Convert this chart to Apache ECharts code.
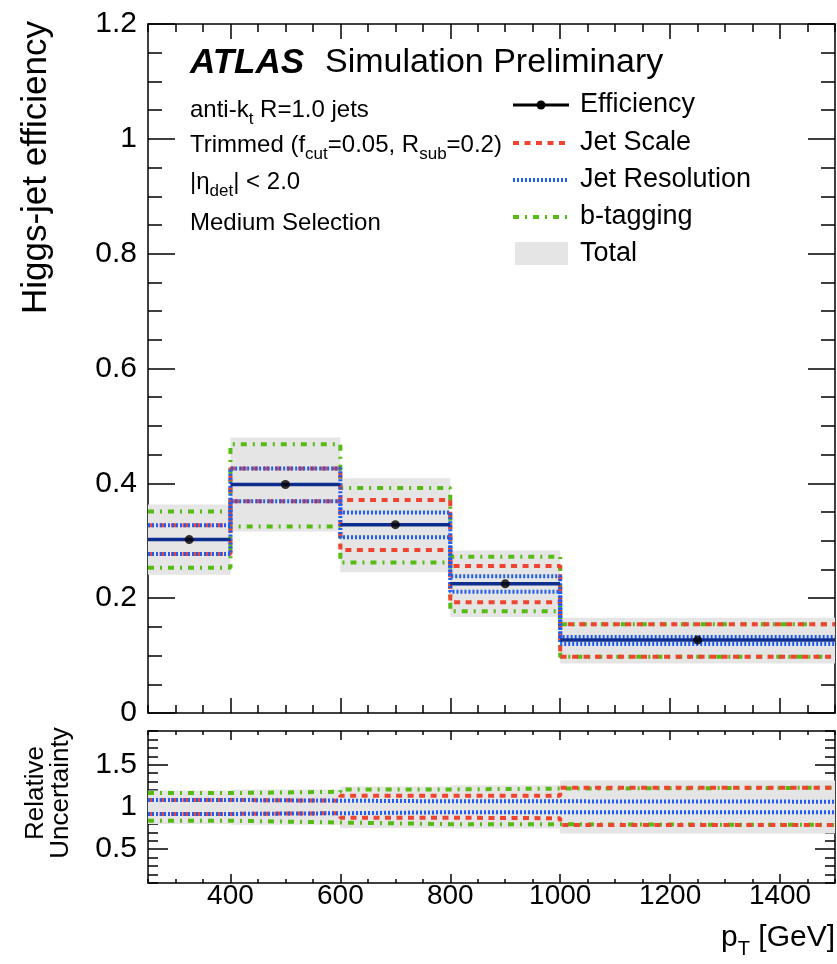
<!DOCTYPE html>
<html><head><meta charset="utf-8">
<script src="https://cdn.jsdelivr.net/npm/echarts@6/dist/echarts.min.js"></script>
<style>html,body{margin:0;padding:0;background:#fff}#c{width:837px;height:964px}</style>
</head><body><div id="c"></div>
<script>
// ---- data ----
const binEdges = [250, 400, 600, 800, 1000, 1500];
const binCenters = [325, 500, 700, 900, 1250];
const efficiency = [0.302, 0.398, 0.328, 0.225, 0.127];
const totalUp   = [0.363, 0.480, 0.409, 0.283, 0.166];
const totalDown = [0.241, 0.316, 0.245, 0.167, 0.086];
const jesUp     = [0.327, 0.426, 0.371, 0.256, 0.1545];
const jesDown   = [0.277, 0.369, 0.284, 0.193, 0.098];
const jerUp     = [0.327, 0.426, 0.349, 0.238, 0.1325];
const jerDown   = [0.277, 0.369, 0.306, 0.211, 0.120];
const btagUp    = [0.351, 0.468, 0.392, 0.272, 0.1545];
const btagDown  = [0.253, 0.325, 0.262, 0.177, 0.098];
// relative uncertainty panel
const relTotalUp   = [1.195, 1.207, 1.243, 1.258, 1.315];
const relTotalDown = [0.800, 0.790, 0.752, 0.745, 0.685];
const relJesUp     = [1.083, 1.075, 1.133, 1.133, 1.228];
const relJesDown   = [0.918, 0.926, 0.873, 0.867, 0.788];
const relJerUp     = [1.083, 1.075, 1.067, 1.067, 1.063];
const relJerDown   = [0.918, 0.926, 0.938, 0.938, 0.938];
const relBtagUp    = [1.165, 1.180, 1.208, 1.218, 1.228];
const relBtagDown  = [0.838, 0.816, 0.797, 0.795, 0.788];
const xTickLabels = [400, 600, 800, 1000, 1200, 1400];
const yRatioLabels = [0.5, 1, 1.5];

// ---- styles ----
const FONT = 'Liberation Sans, Arial, Helvetica, sans-serif';
const RED = '#ef4530', BLUE = '#1f5cf2', GREEN = '#56bb12', NAVY = '#0d2e8e', GRAY = '#e5e5e5';
const DASH_RED = [6, 5.5], DASH_BLUE = [2, 2], DASH_GREEN = [6, 6, 2, 6];

function steps(vals) {
  const d = [];
  vals.forEach((v, i) => { d.push([binEdges[i], v]); d.push([binEdges[i + 1], v]); });
  return d;
}
function boxes(lo, hi) {
  return lo.map((v, i) => [binEdges[i], binEdges[i + 1], v, hi[i]]);
}
function stepSeries(vals, color, dash, xi, yi, z) {
  return { type: 'line', xAxisIndex: xi, yAxisIndex: yi, data: steps(vals), symbol: 'none', silent: true,
    lineStyle: { color: color, width: 4, type: dash }, z: z, animation: false };
}
function bandSeries(lo, hi, xi, yi) {
  return { type: 'custom', xAxisIndex: xi, yAxisIndex: yi, data: boxes(lo, hi), z: 1, silent: true, animation: false,
    renderItem: function (params, api) {
      const p0 = api.coord([api.value(0), api.value(3)]);
      const p1 = api.coord([api.value(1), api.value(2)]);
      return { type: 'rect', shape: { x: p0[0], y: p0[1], width: p1[0] - p0[0], height: p1[1] - p0[1] }, style: { fill: GRAY } };
    } };
}

const xMin = 250, xMax = 1500;
function xAx(grid, pos, minorLen, majorLen, isMajor, labels) {
  const a = { type: 'value', gridIndex: grid, position: pos, min: xMin, max: xMax, interval: 50,
    splitLine: { show: false },
    axisLine: { show: !isMajor, lineStyle: { color: '#000', width: 1.5 } },
    axisTick: { show: true, inside: true, length: isMajor ? majorLen : minorLen, lineStyle: { color: '#000', width: 1.5 } },
    axisLabel: { show: false } };
  if (isMajor) a.axisTick.customValues = xTickLabels;
  if (labels) a.axisLabel = { show: true, customValues: xTickLabels, fontSize: 28, fontFamily: FONT, color: '#000', margin: -1,
    formatter: function (v) { return String(v); } };
  return a;
}

const option = {
  animation: false,
  backgroundColor: '#fff',
  grid: [
    { left: 148, top: 24, width: 687, height: 689, outerBoundsMode: 'none', containLabel: false },
    { left: 148, top: 731, width: 687, height: 152, outerBoundsMode: 'none', containLabel: false }
  ],
  xAxis: [
    xAx(0, 'bottom', 8, 15, false, false),
    xAx(0, 'bottom', 8, 15, true, false),
    xAx(0, 'top', 8, 15, false, false),
    xAx(0, 'top', 8, 15, true, false),
    xAx(1, 'bottom', 4, 9, false, true),
    xAx(1, 'bottom', 4, 9, true, false),
    xAx(1, 'top', 4, 9, false, false),
    xAx(1, 'top', 4, 9, true, false)
  ],
  yAxis: [
    { type: 'value', gridIndex: 0, position: 'left', min: 0, max: 1.2, interval: 0.2,
      splitLine: { show: false },
      axisLine: { show: true, lineStyle: { color: '#000', width: 1.5 } },
      axisTick: { inside: true, length: 27, lineStyle: { color: '#000', width: 1.5 } },
      minorTick: { show: true, splitNumber: 4, length: 14, lineStyle: { color: '#000', width: 1.5 } },
      axisLabel: { fontSize: 30, fontFamily: FONT, color: '#000', margin: 11, showMinLabel: true, showMaxLabel: true } },
    { type: 'value', gridIndex: 0, position: 'right', min: 0, max: 1.2, interval: 0.2,
      splitLine: { show: false },
      axisLine: { show: true, lineStyle: { color: '#000', width: 1.5 } },
      axisTick: { inside: true, length: 27, lineStyle: { color: '#000', width: 1.5 } },
      minorTick: { show: true, splitNumber: 4, length: 14, lineStyle: { color: '#000', width: 1.5 } },
      axisLabel: { show: false } },
    { type: 'value', gridIndex: 1, position: 'left', min: 0.1, max: 1.9, interval: 0.1,
      splitLine: { show: false },
      axisLine: { show: true, lineStyle: { color: '#000', width: 1.5 } },
      axisTick: { inside: true, length: 10, lineStyle: { color: '#000', width: 1.5 } },
      axisLabel: { show: false } },
    { type: 'value', gridIndex: 1, position: 'left', min: 0.1, max: 1.9, interval: 0.1,
      splitLine: { show: false },
      axisLine: { show: false },
      axisTick: { inside: true, length: 20, customValues: yRatioLabels, lineStyle: { color: '#000', width: 1.5 } },
      axisLabel: { show: true, customValues: yRatioLabels, fontSize: 30, fontFamily: FONT, color: '#000', margin: 11 } },
    { type: 'value', gridIndex: 1, position: 'right', min: 0.1, max: 1.9, interval: 0.1,
      splitLine: { show: false },
      axisLine: { show: true, lineStyle: { color: '#000', width: 1.5 } },
      axisTick: { inside: true, length: 10, lineStyle: { color: '#000', width: 1.5 } },
      axisLabel: { show: false } },
    { type: 'value', gridIndex: 1, position: 'right', min: 0.1, max: 1.9, interval: 0.1,
      splitLine: { show: false },
      axisLine: { show: false },
      axisTick: { inside: true, length: 20, customValues: yRatioLabels, lineStyle: { color: '#000', width: 1.5 } },
      axisLabel: { show: false } }
  ],
  series: [
    bandSeries(totalDown, totalUp, 0, 0),
    stepSeries(btagUp, GREEN, DASH_GREEN, 0, 0, 2),
    stepSeries(btagDown, GREEN, DASH_GREEN, 0, 0, 2),
    stepSeries(jesUp, RED, DASH_RED, 0, 0, 3),
    stepSeries(jesDown, RED, DASH_RED, 0, 0, 3),
    stepSeries(jerUp, BLUE, DASH_BLUE, 0, 0, 4),
    stepSeries(jerDown, BLUE, DASH_BLUE, 0, 0, 4),
    { type: 'custom', xAxisIndex: 0, yAxisIndex: 0, z: 5, silent: true, animation: false,
      data: efficiency.map((v, i) => [binEdges[i], binEdges[i + 1], v]),
      renderItem: function (params, api) {
        const a = api.coord([api.value(0), api.value(2)]);
        const b = api.coord([api.value(1), api.value(2)]);
        return { type: 'line', shape: { x1: a[0], y1: a[1], x2: b[0], y2: b[1] }, style: { stroke: NAVY, lineWidth: 3.5 } };
      } },
    { type: 'scatter', xAxisIndex: 0, yAxisIndex: 0, z: 6, silent: true, animation: false,
      data: binCenters.map((c, i) => [c, efficiency[i]]), symbol: 'circle', symbolSize: 9,
      itemStyle: { color: '#000' } },
    bandSeries(relTotalDown, relTotalUp, 4, 2),
    stepSeries(relBtagUp, GREEN, DASH_GREEN, 4, 2, 2),
    stepSeries(relBtagDown, GREEN, DASH_GREEN, 4, 2, 2),
    stepSeries(relJesUp, RED, DASH_RED, 4, 2, 3),
    stepSeries(relJesDown, RED, DASH_RED, 4, 2, 3),
    stepSeries(relJerUp, BLUE, DASH_BLUE, 4, 2, 4),
    stepSeries(relJerDown, BLUE, DASH_BLUE, 4, 2, 4)
  ],
  graphic: [
    // y axis titles
    { type: 'text', x: 36, y: 21, rotation: Math.PI / 2,
      style: { text: 'Higgs-jet efficiency', font: '35px ' + FONT, fill: '#000', align: 'right', verticalAlign: 'middle' } },
    { type: 'text', x: 48, y: 793, rotation: Math.PI / 2,
      style: { text: 'Relative\nUncertainty', font: '26px ' + FONT, fill: '#000', align: 'center', verticalAlign: 'middle', lineHeight: 25 } },
    // x axis title
    { type: 'text', x: 835, y: 938,
      style: { text: '{n|p}{s|T}{n| [GeV]}', align: 'right', verticalAlign: 'middle', fill: '#000',
        rich: { n: { fontSize: 30, fontFamily: FONT, fill: '#000' }, s: { fontSize: 20, fontFamily: FONT, fill: '#000', padding: [22, 0, 0, 0] } } } },
    // ATLAS label
    { type: 'text', x: 190, y: 63,
      style: { text: 'ATLAS', font: 'italic bold 35px ' + FONT, fill: '#000', align: 'left', verticalAlign: 'middle' } },
    { type: 'text', x: 325, y: 63,
      style: { text: 'Simulation Preliminary', font: '34px ' + FONT, fill: '#000', align: 'left', verticalAlign: 'middle' } },
    // info text
    { type: 'text', x: 190, y: 110,
      style: { text: '{n|anti-k}{s|t}{n| R=1.0 jets}', align: 'left', verticalAlign: 'middle',
        rich: { n: { fontSize: 24, fontFamily: FONT, fill: '#000' }, s: { fontSize: 17, fontFamily: FONT, fill: '#000', padding: [19, 0, 0, 0] } } } },
    { type: 'text', x: 190, y: 145,
      style: { text: '{n|Trimmed (f}{s|cut}{n|=0.05, R}{s|sub}{n|=0.2)}', align: 'left', verticalAlign: 'middle',
        rich: { n: { fontSize: 24, fontFamily: FONT, fill: '#000' }, s: { fontSize: 17, fontFamily: FONT, fill: '#000', padding: [19, 0, 0, 0] } } } },
    { type: 'text', x: 190, y: 182,
      style: { text: '{n||\u03b7}{s|det}{n|| < 2.0}', align: 'left', verticalAlign: 'middle',
        rich: { n: { fontSize: 24, fontFamily: FONT, fill: '#000' }, s: { fontSize: 17, fontFamily: FONT, fill: '#000', padding: [19, 0, 0, 0] } } } },
    { type: 'text', x: 190, y: 223,
      style: { text: 'Medium Selection', font: '24px ' + FONT, fill: '#000', align: 'left', verticalAlign: 'middle' } },
    // legend
    { type: 'line', shape: { x1: 513, y1: 105, x2: 569, y2: 105 }, style: { stroke: '#000', lineWidth: 3 } },
    { type: 'circle', shape: { cx: 541, cy: 105, r: 4.5 }, style: { fill: '#000' } },
    { type: 'text', x: 580, y: 105, style: { text: 'Efficiency', font: '27px ' + FONT, fill: '#000', verticalAlign: 'middle' } },
    { type: 'line', shape: { x1: 513, y1: 143, x2: 569, y2: 143 }, style: { stroke: RED, lineWidth: 4, lineDash: DASH_RED } },
    { type: 'text', x: 580, y: 143, style: { text: 'Jet Scale', font: '27px ' + FONT, fill: '#000', verticalAlign: 'middle' } },
    { type: 'line', shape: { x1: 513, y1: 180, x2: 569, y2: 180 }, style: { stroke: BLUE, lineWidth: 4, lineDash: DASH_BLUE } },
    { type: 'text', x: 580, y: 180, style: { text: 'Jet Resolution', font: '27px ' + FONT, fill: '#000', verticalAlign: 'middle' } },
    { type: 'line', shape: { x1: 513, y1: 217, x2: 569, y2: 217 }, style: { stroke: GREEN, lineWidth: 4, lineDash: DASH_GREEN } },
    { type: 'text', x: 580, y: 217, style: { text: 'b-tagging', font: '27px ' + FONT, fill: '#000', verticalAlign: 'middle' } },
    { type: 'rect', shape: { x: 515, y: 242, width: 53, height: 23 }, style: { fill: GRAY } },
    { type: 'text', x: 580, y: 254, style: { text: 'Total', font: '27px ' + FONT, fill: '#000', verticalAlign: 'middle' } }
  ]
};
const chart = echarts.init(document.getElementById('c'), null, { renderer: 'canvas', width: 837, height: 964 });
chart.setOption(option);
</script>
</body></html>
